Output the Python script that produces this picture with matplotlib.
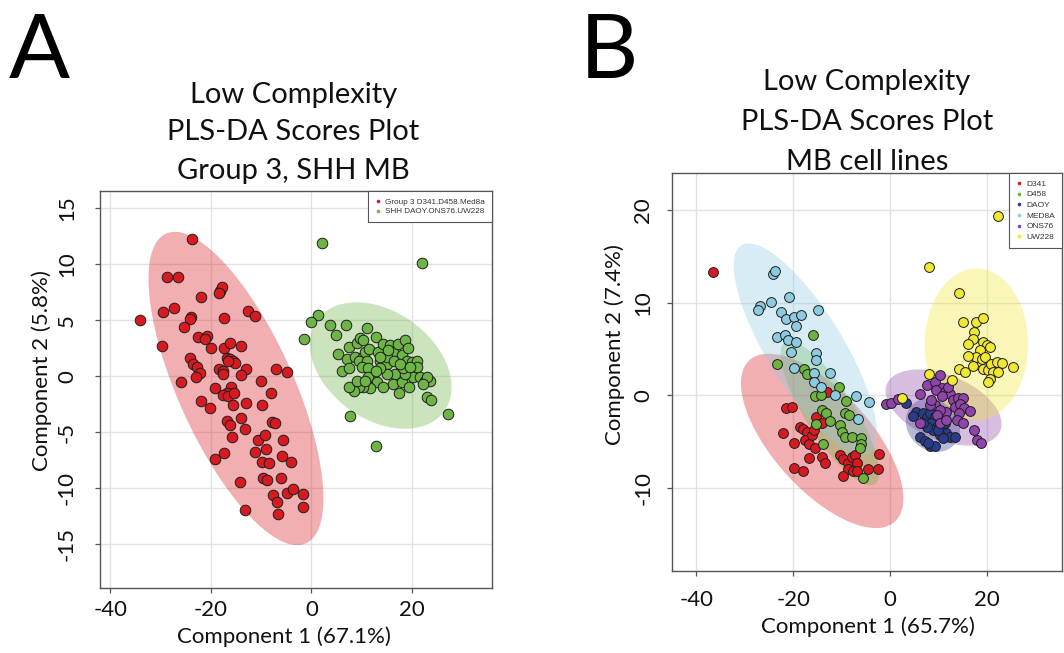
#!/usr/bin/env python3
# PLS-DA scores plots, low complexity data (panels A and B)
import numpy as np
from matplotlib import pyplot as plt
from matplotlib.lines import Line2D

# R style hyphen minus on the tick labels
plt.rcParams["axes.unicode_minus"] = False

# ---- Panel A data: Group 3 vs SHH
group3X = [-23.7,-28.8,-26.6,-34.0,-29.5,-27.4,-23.9,-24.1,-25.3,-29.8,-25.9,-22.0,-18.2,-17.8,-18.4,-17.3,-12.7,-11.3,-22.5,-20.8,
           -21.2,-20.0,-24.2,-23.5,-22.7,-22.2,-23.0,-17.3,-16.2,-13.9,-16.8,-16.2,-15.5,-15.2,-16.6,-18.4,-17.6,-17.5,-13.1,-13.9,
           -7.0,-4.9,-10.1,-19.2,-20.1,-22.0,-16.0,-16.8,-17.5,-16.5,-15.3,-15.5,-13.1,-9.9,-8.0,-13.9,-13.2,-16.7,-16.2,-15.7,
           -7.8,-7.2,-10.7,-9.3,-5.6,-19.2,-17.3,-11.2,-9.1,-9.9,-8.4,-5.9,-4.0,-14.1,-9.7,-8.9,-6.0,-4.8,-3.6,-7.6,
           -6.9,-6.6,-1.6,-1.6,-13.3]
group3Y = [12.3,8.9,8.9,5.0,5.7,6.1,5.3,5.1,4.4,2.7,-0.5,7.1,7.6,8.0,7.4,5.2,5.8,5.4,3.5,3.6,
           3.3,2.5,1.6,1.1,0.8,0.3,-0.1,2.5,3.0,2.7,1.6,1.5,1.4,1.2,1.4,0.6,0.5,0.2,0.6,0.1,
           0.6,0.4,-0.4,-1.1,-2.8,-2.2,-1.0,-1.5,-1.7,-1.8,-1.5,-2.6,-2.4,-2.6,-1.5,-3.7,-4.7,-4.0,-4.4,-5.4,
           -4.1,-4.2,-5.7,-5.3,-5.7,-7.4,-6.9,-6.8,-6.5,-7.7,-7.8,-7.1,-7.7,-9.5,-9.1,-9.3,-9.1,-10.4,-10.1,-10.6,
           -11.2,-12.3,-10.5,-11.7,-12.0]
shhX = [2.1,22.0,1.4,-0.1,-1.5,3.7,5.0,6.8,11.0,5.4,7.5,9.0,9.7,10.3,7.0,6.0,7.4,8.7,10.3,9.4,
        10.7,11.5,11.0,10.0,11.3,12.9,13.3,14.3,13.7,15.0,15.7,16.3,17.2,18.0,18.6,19.2,19.0,20.0,21.0,17.6,
        16.6,15.0,13.7,12.3,11.3,13.0,11.7,10.3,9.4,8.4,7.4,9.0,10.7,16.3,18.0,19.5,20.3,21.6,22.6,23.6,
        23.0,22.2,18.6,21.0,15.0,12.9,23.0,23.8,27.1,7.7,12.8,17.5,14.3,18.3,13.7,16.5,17.6,19.6,15.3]
shhY = [11.9,10.1,5.5,4.8,3.3,4.6,3.7,4.6,4.3,2.0,2.6,3.0,3.4,3.2,1.5,0.5,0.7,1.7,1.7,1.4,
        2.2,2.4,1.4,0.8,0.7,3.5,2.2,2.9,1.4,1.1,2.8,2.2,2.9,1.9,3.2,2.5,1.4,1.3,1.4,0.4,
        0.2,0.2,0.7,-0.1,-0.1,-0.5,-1.1,-1.0,-1.0,-1.3,-1.0,-0.4,-0.4,-0.7,-0.5,-1.0,-0.1,-0.1,-0.4,-0.4,
        -0.1,-0.7,0.2,0.8,1.7,0.5,-1.9,-2.1,-3.4,-3.6,-6.2,-1.5,-1.0,0.7,1.7,1.4,1.1,0.8,2.3]

# ---- Panel B data: individual MB cell lines
d341X = [-36.6,-21.4,-20.3,-22.2,-19.9,-18.6,-17.9,-17.2,-17.6,-16.7,-16.2,-15.7,-15.3,-14.1,-15.5,-16.7,-14.1,
         -13.4,-19.8,-17.9,-10.3,-9.7,-8.6,-7.9,-7.2,-6.9,-8.6,-7.6,-6.9,-9.7,-4.5,-2.4,-2.3,-13.1]
d341Y = [13.3,-1.4,-1.2,-4.0,-5.1,-3.4,-3.6,-3.9,-4.8,-5.2,-4.3,-3.7,-2.3,-3.0,-5.7,-6.7,-6.6,
         -7.3,-7.8,-8.1,-6.4,-6.8,-7.3,-6.6,-6.4,-7.3,-7.9,-8.1,-8.1,-8.7,-7.9,-7.9,-6.3,0.4]
d458X = [-16.0,-23.4,-17.8,-17.2,-10.5,-15.5,-14.3,-9.0,-14.1,-13.2,-12.3,-9.3,-8.4,-15.2,-10.3,-10.0,-9.3,
         -7.9,-5.9,-5.9,-6.1,-13.9,-5.5]
d458Y = [6.5,3.4,2.9,2.3,0.9,-0.1,-0.0,-0.6,-1.6,-1.9,-2.8,-1.9,-2.1,-3.1,-3.2,-3.9,-4.5,
         -4.5,-4.6,-5.2,-5.7,-5.2,-8.9]
daoyX = [3.3,5.5,4.7,6.8,7.6,8.3,9.3,10.0,8.6,9.7,10.7,11.4,9.0,7.6,6.9,11.7,10.3,12.4,13.4,6.2,7.2,8.3,9.3,7.9,10.0,11.0]
daoyY = [-0.8,-1.8,-2.2,-1.9,-2.3,-1.9,-2.3,-2.7,-3.0,-3.4,-3.6,-3.0,-3.7,-3.4,-3.0,-4.1,-4.3,-4.5,-4.5,-4.5,-4.9,-5.4,-5.4,-5.1,-3.7,-4.6]
med8aX = [-24.1,-23.8,-24.6,-26.8,-27.2,-20.8,-14.8,-22.6,-21.4,-19.8,-18.4,-19.4,-23.4,-21.7,-21.0,-19.5,-20.5,
          -15.2,-15.3,-19.8,-15.7,-12.3,-15.7,-14.3,-11.4,-7.1,-4.3,-6.6]
med8aY = [13.1,13.4,10.1,9.7,9.2,10.6,9.2,9.0,8.3,8.5,8.7,7.5,6.3,6.5,6.0,5.8,4.7,
          4.6,3.8,3.0,2.4,2.4,1.4,0.9,0.0,-0.1,-0.7,-2.5]
ons76X = [-0.7,0.3,1.7,6.2,7.7,9.3,10.3,10.7,9.5,11.4,12.4,12.1,10.7,13.1,14.1,15.2,13.4,14.5,15.4,16.6,14.3,11.7,
          9.3,10.3,8.3,8.6,6.2,9.7,13.8,15.2,17.4,18.1,18.8,10.3,11.7]
ons76Y = [-0.9,-0.8,-0.4,0.2,1.1,1.5,2.2,0.8,0.6,0.4,0.2,0.9,-0.1,-0.5,-0.3,-0.3,-1.2,-0.9,-1.3,-1.7,-1.9,-1.8,
          -1.0,-1.6,-1.0,-0.5,-3.0,-2.1,-2.7,-3.0,-3.7,-4.8,-5.1,-3.0,-2.7]
uw228X = [22.3,8.0,14.3,15.2,17.8,19.2,17.4,17.2,16.2,19.3,20.0,20.7,18.6,17.9,16.2,19.0,19.7,14.3,15.5,17.2,19.3,
          20.3,21.0,22.1,23.1,21.4,22.4,20.7,20.3,25.4,8.1,12.8,2.6]
uw228Y = [19.4,13.9,11.0,7.9,7.9,8.4,6.8,6.1,5.5,5.8,5.4,5.2,4.9,4.2,4.3,3.9,4.2,2.9,2.5,3.2,2.9,
          2.7,3.4,3.6,3.5,2.5,2.5,1.8,1.5,3.1,2.3,1.7,-0.3]

# Confidence ellipses: centre x, centre y, half-range x, half-range y, correlation
ellipsesA = [(-15.0, -1.1, 17.4, 14.0, -0.70), (13.8, 0.95, 14.1, 5.65, -0.34)]
ellipsesB = [(-14.0, -4.9, 16.8, 9.4, -0.66), (-12.4, -1.9, 10.2, 7.8, -0.82), (8.9, -3.2, 5.6, 2.9, -0.15),
             (-17.5, 5.0, 14.8, 11.4, -0.79), (11.1, -1.3, 12.0, 4.1, -0.43), (17.9, 5.5, 10.7, 8.2, 0.0)]

labelsA = ["Group 3 D341.D458.Med8a", "SHH DAOY.ONS76.UW228"]
labelsB = ["D341", "D458", "DAOY", "MED8A", "ONS76", "UW228"]
colorsA = ["#D71A20", "#6EB446"]
colorsB = ["#D71A20", "#6DB33F", "#283C8C", "#8DCBE0", "#8E44A8", "#F0E832"]

mainFont = "Lato"
legendFont = "Liberation Sans"


def ellipse_points(cx, cy, sx, sy, rho):
    t = np.linspace(0, 2*np.pi, 200)
    return cx + sx*np.cos(t), cy + sy*(rho*np.cos(t) + np.sqrt(1 - rho**2)*np.sin(t))


def plot_scores(ax, groups, ellipses, colors, labels, xlim, ylim, xticks, yticks, markerSize, legendSize, legendSpacing, legendPad):
    ax.set_xlim(xlim)
    ax.set_ylim(ylim)
    ax.set_xticks(xticks)
    ax.set_yticks(yticks)
    ax.grid(True, color="#E2E2E2", linewidth=1.0)
    ax.set_axisbelow(True)
    # ellipses first, points on top
    for (cx, cy, sx, sy, rho), col in zip(ellipses, colors):
        ex, ey = ellipse_points(cx, cy, sx, sy, rho)
        ax.fill(ex, ey, color=col, alpha=0.35, linewidth=0, zorder=1)
    for (gx, gy), col in zip(groups, colors):
        ax.scatter(gx, gy, s=markerSize, c=col, edgecolors="#1E1E1E", linewidths=0.7, zorder=3)
    for spine in ax.spines.values():
        spine.set_color("#555555")
        spine.set_linewidth(1.0)
    handles = [Line2D([], [], linestyle="none", marker="o", markersize=2.6, markerfacecolor=c, markeredgewidth=0) for c in colors]
    leg = ax.legend(handles, labels, loc="upper right", bbox_to_anchor=(1, 1), borderaxespad=0, fancybox=False,
                    edgecolor="#555555", framealpha=1, handlelength=0.8, handletextpad=0.5, borderpad=legendPad,
                    labelspacing=legendSpacing, prop={"family": legendFont, "size": legendSize})
    leg.get_frame().set_linewidth(0.8)
    for txt in leg.get_texts():
        txt.set_color("#333333")


fig = plt.figure(figsize=(10.64, 6.53), dpi=100)
W, H = 1064, 653

# Axes positions in pixels: left, top, right, bottom
boxA = (100, 191, 492.3, 588)
boxB = (672.3, 173.3, 1062, 570.7)
axA = fig.add_axes([boxA[0]/W, 1 - boxA[3]/H, (boxA[2]-boxA[0])/W, (boxA[3]-boxA[1])/H])
axB = fig.add_axes([boxB[0]/W, 1 - boxB[3]/H, (boxB[2]-boxB[0])/W, (boxB[3]-boxB[1])/H])

plot_scores(axA, [(group3X, group3Y), (shhX, shhY)], ellipsesA, colorsA, labelsA,
            (-42.05, 36.0), (-18.93, 16.55), [-40, -20, 0, 20], [-15, -10, -5, 0, 5, 10, 15], 58, 5.9, 0.25, 0.85)
plot_scores(axB, [(d341X, d341Y), (d458X, d458Y), (daoyX, daoyY), (med8aX, med8aY), (ons76X, ons76Y), (uw228X, uw228Y)],
            ellipsesB, colorsB, labelsB, (-45.0, 35.6), (-18.9, 23.96), [-40, -20, 0, 20], [-10, 0, 10, 20], 50, 6.0, 0.34, 0.8)

# R style tick labels: rotated y labels, centred on their ticks
for ax, xpad, ypad in [(axA, 12.2, 20.2), (axB, 17.3, 17.3)]:
    ax.tick_params(axis="both", direction="out", length=3.6, width=0.9, color="#555555", labelsize=16, labelcolor="#111111")
    ax.tick_params(axis="x", pad=xpad)
    ax.tick_params(axis="y", pad=ypad)
    for lab in ax.get_xticklabels():
        lab.set_family(mainFont)
        lab.set_va("center")
    for lab in ax.get_yticklabels():
        lab.set_family(mainFont)
        lab.set_rotation(90)
        lab.set_ha("center")
        lab.set_va("center")

axA.set_xlabel("Component 1 (67.1%)", family=mainFont, fontsize=16, color="#111111")
axA.set_ylabel("Component 2 (5.8%)", family=mainFont, fontsize=16, color="#111111")
axB.set_xlabel("Component 1 (65.7%)", family=mainFont, fontsize=16, color="#111111")
axB.set_ylabel("Component 2 (7.4%)", family=mainFont, fontsize=16, color="#111111")
for ax, box, xl, yl in [(axA, boxA, (284, 637), (42, 370.7)), (axB, boxB, (867.5, 626.7), (615, 345))]:
    bw, bh = box[2]-box[0], box[3]-box[1]
    ax.xaxis.set_label_coords((xl[0]-box[0])/bw, (box[3]-xl[1])/bh)
    ax.yaxis.set_label_coords((yl[0]-box[0])/bw, (box[3]-yl[1])/bh)
    ax.xaxis.label.set_va("center")
    ax.yaxis.label.set_va("center")

# Titles, three lines each, placed by baseline
titleA = ["Low Complexity", "PLS-DA Scores Plot", "Group 3, SHH MB"]
titleB = ["Low Complexity", "PLS-DA Scores Plot", "MB cell lines"]
for lines, cx, baselines in [(titleA, 293.5, [103, 140.5, 179]), (titleB, 867, [90, 130, 170])]:
    for line, by in zip(lines, baselines):
        fig.text(cx/W, 1 - by/H, line, ha="center", va="baseline", family=mainFont, fontsize=21, color="#111111")

fig.text(9/W, 1 - 78/H, "A", ha="left", va="baseline", family=mainFont, fontsize=65, color="black")
fig.text(580/W, 1 - 78/H, "B", ha="left", va="baseline", family=mainFont, fontsize=65, color="black")

fig.savefig("out.png", dpi=100, facecolor="white")
